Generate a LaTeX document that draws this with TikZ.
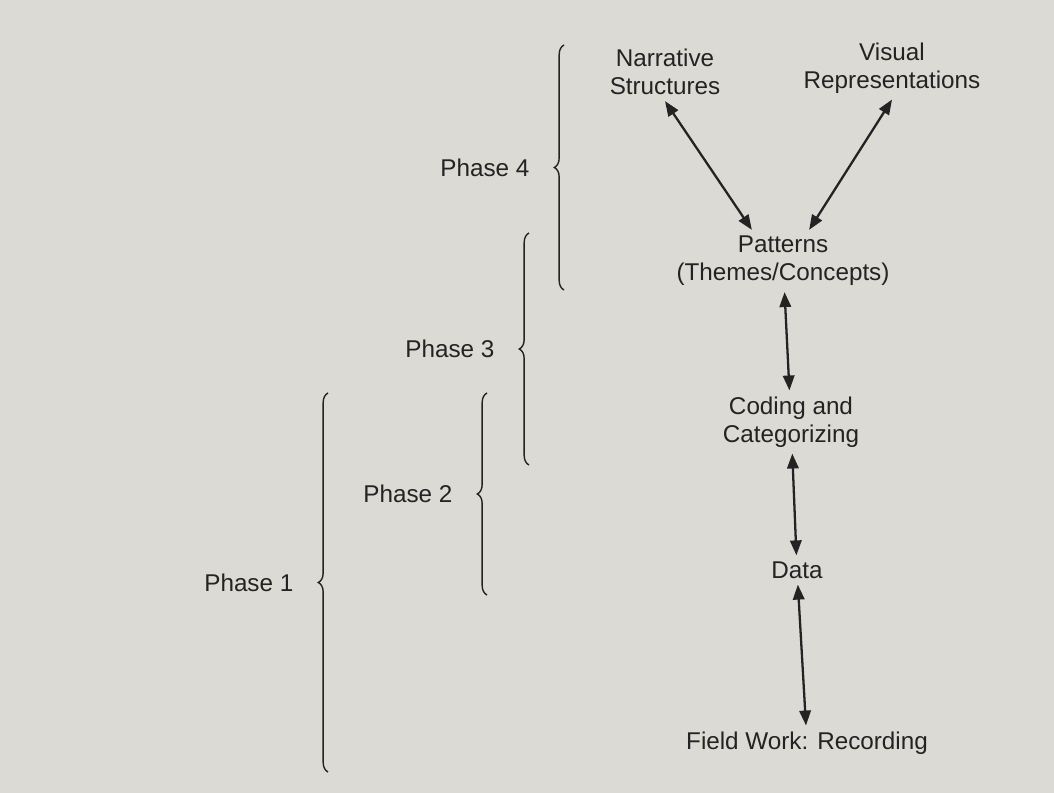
\documentclass[tikz,border=0pt]{standalone}
\usepackage{fontspec}
\setmainfont{Liberation Sans}
\usetikzlibrary{arrows.meta,positioning,decorations.pathreplacing}
\definecolor{page}{RGB}{220,218,212}
\definecolor{ink}{RGB}{35,35,35}

\begin{document}
\begin{tikzpicture}[x=0.02cm, y=-0.02cm,
        lbl/.style={align=center, text=ink, font=\fontsize{13.8}{16}\selectfont},
        link/.style={{Triangle[length=8.5pt,width=6.5pt]}-{Triangle[length=8.5pt,width=6.5pt]}, draw=ink, line width=1.3pt},
        phase/.style={decorate, decoration={brace, amplitude=5.5pt}, draw=ink, line width=0.8pt}]
    \fill [page] (0,0) rectangle (1054,793);
    \useasboundingbox (0,0) rectangle (1054,793);

    \node [lbl] (nar) at (665,72) {Narrative\\Structures};
    \node [lbl] (vis) at (892,68) {Visual\\Representations};
    \node [lbl] (pat) at (783,261) {Patterns\\(Themes/Concepts)};
    \node [lbl] (cod) at (791,422) {Coding and\\Categorizing};
    \node [lbl] (dat) at (797,570) {Data};
    \node [lbl] (fld) at (807,743) {Field Work: Recording};

    \draw [link] (nar.south) -- (pat.135);
    \draw [link] (vis.south) -- (pat.50);
    \draw [link] (pat) -- (cod);
    \draw [link] (cod) -- (dat);
    \draw [link] (dat) -- (fld);

    \coordinate (p4b) at (564,290);
    \coordinate (p4t) at (564,45);
    \coordinate (p3b) at (529,465);
    \coordinate (p3t) at (529,233);
    \coordinate (p2b) at (487,595);
    \coordinate (p2t) at (487,393);
    \coordinate (p1b) at (328,772);
    \coordinate (p1t) at (328,393);

    \draw [phase] (p4b) -- (p4t) node [lbl, midway, left=16pt] (ph4) {Phase 4};
    \draw [phase] (p3b) -- (p3t) node [lbl, midway, left=16pt] (ph3) {Phase 3};
    \draw [phase] (p2b) -- (p2t) node [lbl, midway, left=16pt] (ph2) {Phase 2};
    \draw [phase] (p1b) -- (p1t) node [lbl, midway, left=16pt] (ph1) {Phase 1};
\end{tikzpicture}
\end{document}
